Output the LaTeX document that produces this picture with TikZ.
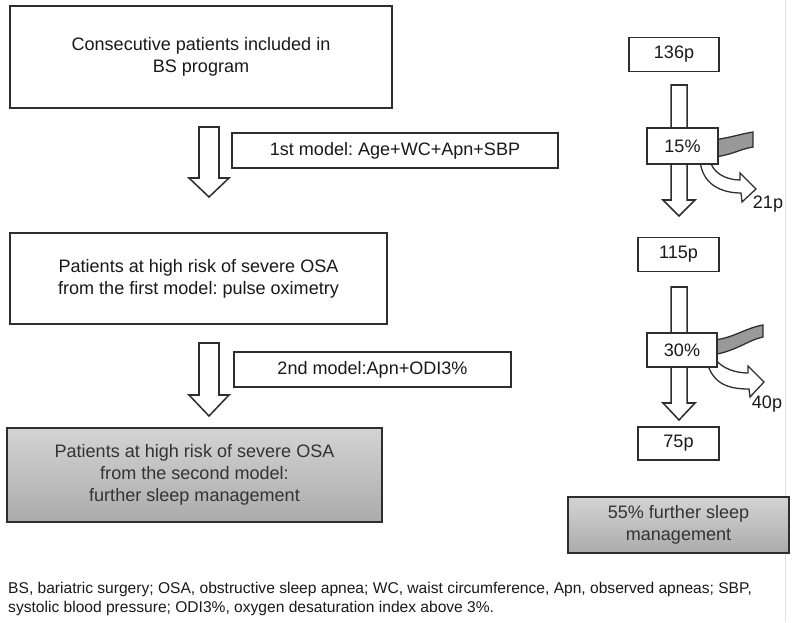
\documentclass[tikz,border=0pt]{standalone}
\usepackage{fontspec}
\setmainfont{Liberation Sans}
\usetikzlibrary{arrows.meta, positioning, calc}
\frenchspacing

% hollow block arrow pointing down: x, top, head base, tip, half shaft width
\newcommand{\hollowdown}[5]{%
  \draw[blockarrow] ({#1-#5},#2) -- ({#1+#5},#2) -- ({#1+#5},#3) -- ({#1+2*#5},#3)
    -- (#1,#4) -- ({#1-2*#5},#3) -- ({#1-#5},#3) -- cycle;}

\begin{document}
\begin{tikzpicture}[
        x=0.03cm, y=-0.03cm,
        line join=miter,
        flowbox/.style={rectangle, draw=black!82, line width=1.6pt, fill=white, align=center,
            inner sep=2pt, font=\fontsize{15.4}{18.6}\selectfont, text=black!90},
        countbox/.style={flowbox, minimum height=34*0.03cm},
        shadedbox/.style={flowbox, top color=black!17, bottom color=black!33, text=black!80},
        blockarrow/.style={draw=black!82, line width=1.3pt, fill=white},
        outband/.style={draw=black!82, line width=1.1pt, fill=black!40},
        countlabel/.style={font=\fontsize{15.4}{18.6}\selectfont, text=black!90, inner sep=0pt},
        notefont/.style={font=\fontsize{13.3}{16.2}\selectfont, align=left, text=black!90, inner sep=0pt}
    ]
        \useasboundingbox (0,0) rectangle (793,622);

        % page edge of the scan
        \draw[black!12, line width=0.6pt] (785,0) -- (785,622);

        % Flujo principal
        \hollowdown{209}{127}{178}{197}{10}
        \hollowdown{209}{343}{395}{416}{10}

        \node[flowbox, minimum width=382*0.03cm, minimum height=102*0.03cm] (start) at (201,57)
            {Consecutive patients included in\\BS program};
        \node[flowbox, minimum width=326*0.03cm, minimum height=35*0.03cm] (model1) at (395,150.5)
            {1st model: Age+WC+Apn+SBP};
        \node[flowbox, minimum width=377*0.03cm, minimum height=91*0.03cm] (oxi) at (198.5,278.5)
            {Patients at high risk of severe OSA\\from the first model: pulse oximetry};
        \node[flowbox, minimum width=277*0.03cm, minimum height=35*0.03cm] (model2) at (372.5,369.5)
            {2nd model:Apn+ODI3\%};
        \node[shadedbox, minimum width=375*0.03cm, minimum height=94*0.03cm] (mgmt) at (194.5,475)
            {Patients at high risk of severe OSA\\from the second model:\\further sleep management};

        % Columna de pacientes
        \hollowdown{679}{85}{200}{216}{8}
        \hollowdown{679}{287}{403}{420}{8}

        % bandas grises de salida
        \draw[outband] (712,140) .. controls (730,138) and (740,134) .. (753,132) -- (753,147)
            .. controls (740,149) and (730,156) .. (712,157) -- cycle;
        \draw[outband] (711,340) .. controls (730,340) and (745,328) .. (763,325) -- (763,337)
            .. controls (748,340) and (735,352) .. (711,355) -- cycle;

        % flechas curvas de excluidos
        \draw[blockarrow, line width=1.1pt] (700,160) .. controls (702,185) and (722,193) .. (741,193)
            -- (742,202) -- (756,189) -- (740,173) -- (740,180)
            .. controls (725,180) and (712,172) .. (710,160) -- cycle;
        \draw[blockarrow, line width=1.1pt] (707,362) .. controls (713,385) and (730,389) .. (749,389)
            -- (750,397) -- (764,382) -- (748,366) -- (748,373)
            .. controls (735,373) and (722,368) .. (716,360) -- cycle;

        \node[countbox, minimum width=90*0.03cm] (n136) at (674,54.5) {136p};
        \node[countbox, minimum width=71*0.03cm, minimum height=36*0.03cm] (r15) at (682.5,146) {15\%};
        \node[countbox, minimum width=81*0.03cm] (n115) at (678.5,254.5) {115p};
        \node[countbox, minimum width=70*0.03cm] (r30) at (682,350) {30\%};
        \node[countbox, minimum width=81*0.03cm, minimum height=33*0.03cm] (n75) at (678.5,443.5) {75p};
        \node[shadedbox, minimum width=221*0.03cm, minimum height=56*0.03cm] (sleep) at (678.5,525)
            {55\% further sleep\\management};

        \node[countlabel] (out21) at (768,204) {21p};
        \node[countlabel] (out40) at (767,404) {40p};

        % Nota al pie
        \node[notefont, anchor=north west] (notes) at (8,582)
            {BS, bariatric surgery; OSA, obstructive sleep apnea; WC, waist circumference, Apn, observed apneas; SBP,\\
             systolic blood pressure; ODI3\%, oxygen desaturation index above 3\%.};

    \end{tikzpicture}
\end{document}
